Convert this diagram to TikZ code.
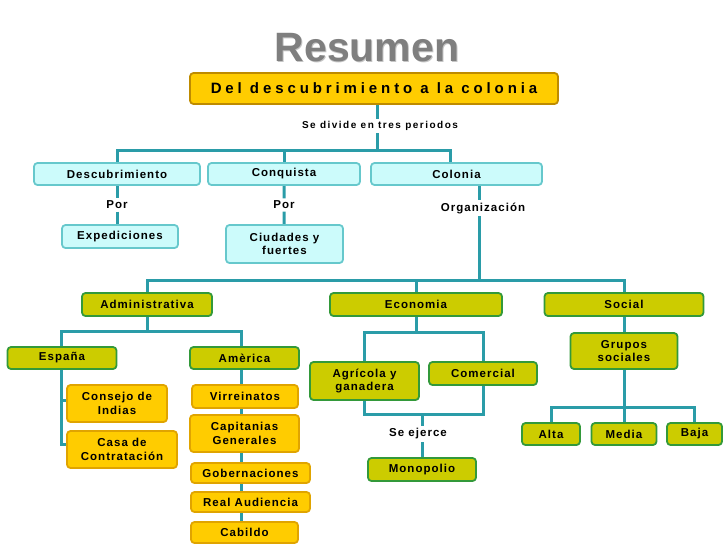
\documentclass[tikz,border=0pt]{standalone}
\usepackage{fontspec}
\setmainfont{Liberation Sans}
\newfontfamily\lsp[LetterSpace=9]{Liberation Sans}
\newfontfamily\lspd[LetterSpace=15]{Liberation Sans}
\newfontfamily\lspw[LetterSpace=26]{Liberation Sans}
\usetikzlibrary{backgrounds}
\definecolor{linec}{HTML}{2A9CA8}
\definecolor{cyanf}{HTML}{CCFBFB}
\definecolor{cyanb}{HTML}{66C8CC}
\definecolor{olivef}{HTML}{CCCC00}
\definecolor{oliveb}{HTML}{33993A}
\definecolor{goldf}{HTML}{FFCC00}
\definecolor{goldb}{HTML}{E0A400}
\definecolor{titleg}{HTML}{7F7F7F}
\tikzset{
  box/.style={rounded corners=3.5pt, line width=1.8pt, inner sep=0pt, align=center,
    font=\lsp\bfseries\fontsize{11.5}{13.5}\selectfont},
  cbox/.style={box, fill=cyanf, draw=cyanb},
  obox/.style={box, fill=olivef, draw=oliveb},
  ybox/.style={box, fill=goldf, draw=goldb},
  lbl/.style={inner sep=2.5pt, font=\lsp\bfseries\fontsize{11.5}{13}\selectfont},
  conn/.style={draw=linec, line width=3pt},
}
\newcommand{\bx}[7]{\node[#1, minimum width=#5pt, minimum height=#6pt] (#2) at (#3,#4) {#7};}
\begin{document}
\begin{tikzpicture}[x=1pt,y=-1pt]
\useasboundingbox (0,0) rectangle (728,546);
\node[font=\bfseries\fontsize{41}{41}\selectfont, text=titleg!45!white] at (367.8,48.8) {Resumen};
\node[font=\bfseries\fontsize{41}{41}\selectfont, text=titleg] (title) at (367,48) {Resumen};
\node[box, fill=goldf, draw=goldb!85!black, minimum width=368pt, minimum height=31pt,
  font=\lspw\bfseries\fontsize{15}{17}\selectfont] (top) at (374,88.5) {Del descubrimiento a la colonia};
\node[lbl, font=\lspd\bfseries\fontsize{10}{12}\selectfont] (divide) at (380,126) {Se divide en tres periodos};
\bx{cbox}{desc}{117}{174}{166}{22}{Descubrimiento}
\bx{cbox}{conq}{284}{174}{152}{22}{Conquista}
\bx{cbox}{colo}{456.5}{174}{171}{22}{Colonia}
\node[lbl] (por1) at (117,205) {Por};
\node[lbl] (por2) at (284,205) {Por};
\node[lbl] (organiz) at (483,208) {Organización};
\bx{cbox}{exped}{120}{236.5}{116}{23}{Expediciones}
\bx{cbox}{ciud}{284.5}{244}{117}{38}{Ciudades y\\fuertes}
\bx{obox}{admin}{147}{304.5}{130}{23}{Administrativa}
\bx{obox}{econ}{416}{304.5}{172}{23}{Economia}
\bx{obox}{soc}{624}{304.5}{159}{23}{Social}
\bx{obox}{espana}{62}{358}{109}{22}{España}
\bx{obox}{america}{244.5}{358}{109}{22}{Amèrica}
\bx{ybox}{consejo}{117}{403.5}{100}{37}{Consejo de\\Indias}
\bx{ybox}{casa}{122}{449.5}{110}{37}{Casa de\\Contratación}
\bx{ybox}{virr}{245}{396.5}{106}{23}{Virreinatos}
\bx{ybox}{capit}{244.5}{433.5}{109}{37}{Capitanias\\Generales}
\bx{ybox}{gober}{250.5}{473}{119}{20}{Gobernaciones}
\bx{ybox}{real}{250.5}{502}{119}{20}{Real Audiencia}
\bx{ybox}{cabildo}{244.5}{532.5}{107}{21}{Cabildo}
\bx{obox}{agri}{364.5}{381}{109}{38}{Agrícola y\\ganadera}
\bx{obox}{comer}{483}{373.5}{108}{23}{Comercial}
\node[lbl] (ejerce) at (418,434) {Se ejerce};
\bx{obox}{mono}{422}{469.5}{108}{23}{Monopolio}
\bx{obox}{grupos}{624}{351}{107}{36}{Grupos\\sociales}
\bx{obox}{alta}{551}{434}{58}{22}{Alta}
\bx{obox}{media}{624}{434}{65}{22}{Media}
\bx{obox}{baja}{694.5}{434}{55}{22}{Baja}
\coordinate (b1) at (377,150);
\coordinate (b2) at (479,280);
\coordinate (b3) at (147,331);
\coordinate (b4) at (416,332);
\coordinate (b5) at (422,414);
\coordinate (b6) at (624,407);
\coordinate (av) at (241,0);
\coordinate (ev) at (61,0);
\begin{pgfonlayer}{background}
\draw[conn] (top.south -| b1) -- (b1 |- divide.north);
\draw[conn] (b1 |- divide.south) -- (b1);
\draw[conn] (desc.north) |- (b1);
\draw[conn] (conq.north) -- (conq.north |- b1);
\draw[conn] (b1) -| ([xshift=-6pt]colo.north);
\draw[conn] (desc) -- (por1);
\draw[conn] (por1) -- (por1 |- exped.north);
\draw[conn] (conq) -- (por2) -- (ciud);
\draw[conn] (colo.south -| b2) -- (b2 |- organiz.north);
\draw[conn] (b2 |- organiz.south) -- (b2);
\draw[conn] (admin.north) |- (b2) -| (soc.north);
\draw[conn] (econ.north) -- (econ.north |- b2);
\draw[conn] (admin) -- (b3);
\draw[conn] (espana.north -| ev) |- (b3) -| (america.north -| av);
\draw[conn] (espana.south -| ev) |- ([yshift=5.5pt]casa.west);
\draw[conn] (ev |- consejo.west) ++(0,-3.5) -- ([yshift=3.5pt]consejo.west);
\draw[conn] (america.south -| av) -- (virr.north -| av);
\draw[conn] (virr.south -| av) -- (capit.north -| av);
\draw[conn] (capit.south -| av) -- (gober.north -| av);
\draw[conn] (gober.south -| av) -- (real.north -| av);
\draw[conn] (real.south -| av) -- (cabildo.north -| av);
\draw[conn] (econ) -- (b4);
\draw[conn] (agri.north) |- (b4) -| (comer.north);
\draw[conn] (agri.south) |- (comer.south |- b5) -- (comer.south);
\draw[conn] (b5) -- (b5 |- ejerce.north);
\draw[conn] (b5 |- ejerce.south) -- (b5 |- mono.north);
\draw[conn] (soc) -- (grupos);
\draw[conn] (grupos) -- (b6);
\draw[conn] (alta.north) |- (b6) -| (baja.north);
\draw[conn] (media) -- (b6);
\end{pgfonlayer}
\end{tikzpicture}
\end{document}
